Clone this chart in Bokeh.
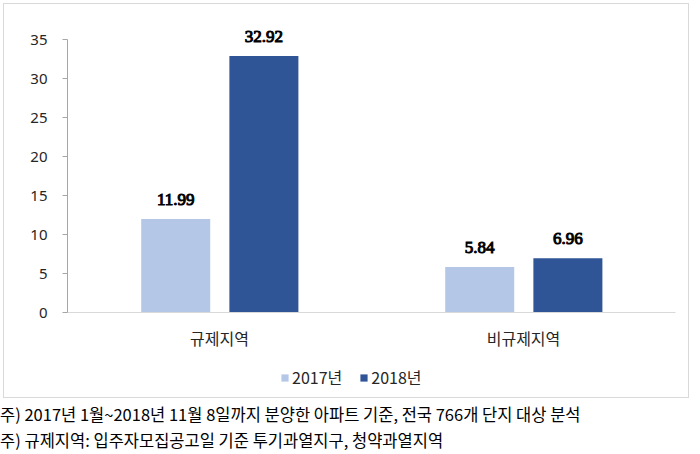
from bokeh.plotting import figure
from bokeh.models import ColumnDataSource, FactorRange, LabelSet, Legend, LegendItem, FixedTicker, Div
from bokeh.layouts import column
from bokeh.transform import dodge
from bokeh.embed import file_html
from bokeh.resources import INLINE

categories = ["규제지역", "비규제지역"]
series_names = ["2017년", "2018년"]
values_2017 = [11.99, 5.84]
values_2018 = [32.92, 6.96]
notes = [
    "주) 2017년 1월~2018년 11월 8일까지 분양한 아파트 기준, 전국 766개 단지 대상 분석",
    "주) 규제지역: 입주자모집공고일 기준 투기과열지구, 청약과열지역",
]

FONT = "Noto Sans CJK KR"
NUMFONT = "Noto Sans"
C17 = "#B4C7E7"
C18 = "#2F5597"

src = ColumnDataSource(dict(
    cat=categories,
    v17=values_2017,
    v18=values_2018,
    l17=[f"{v:.2f}" for v in values_2017],
    l18=[f"{v:.2f}" for v in values_2018],
))

# main chart
p = figure(width=684, height=352, x_range=FactorRange(*categories, range_padding=0),
           y_range=(0, 38), output_backend="svg", toolbar_location=None,
           min_border_left=63, min_border_right=13, min_border_top=12, min_border_bottom=44)
p.outline_line_color = None
p.background_fill_color = "white"
p.border_fill_color = "white"
p.xgrid.grid_line_color = None
p.ygrid.grid_line_color = None

r17 = p.vbar(x=dodge("cat", -0.144, range=p.x_range), top="v17", width=0.227, source=src,
             fill_color=C17, line_color=None)
r18 = p.vbar(x=dodge("cat", 0.146, range=p.x_range), top="v18", width=0.227, source=src,
             fill_color=C18, line_color=None)

for col, lab, off in (("v17", "l17", -0.144), ("v18", "l18", 0.146)):
    ls = LabelSet(x=dodge("cat", off, range=p.x_range), y=col, text=lab, source=src,
                  text_align="center", text_baseline="bottom", y_offset=14,
                  text_font=NUMFONT, text_font_size="17px", text_font_style="normal",
                  text_color="black", text_outline_color="black")
    p.add_layout(ls)

p.yaxis.ticker = FixedTicker(ticks=[0, 5, 10, 15, 20, 25, 30, 35])
p.yaxis.bounds = (0, 35)
p.yaxis.axis_line_color = "#A6A6A6"
p.yaxis.major_tick_line_color = "#A6A6A6"
p.yaxis.major_tick_out = 5
p.yaxis.major_tick_in = 0
p.yaxis.minor_tick_line_color = None
p.yaxis.major_label_standoff = 15
p.yaxis.major_label_text_font = NUMFONT
p.yaxis.major_label_text_font_size = "15px"
p.yaxis.major_label_text_color = "#262626"

p.xaxis.axis_line_color = "#D9D9D9"
p.xaxis.major_tick_line_color = None
p.xaxis.minor_tick_line_color = None
p.xaxis.major_label_standoff = 7
p.xaxis.major_label_text_font = FONT
p.xaxis.major_label_text_font_size = "16px"
p.xaxis.major_label_text_color = "#262626"

# legend strip
lsrc = ColumnDataSource(dict(x=[0.0], top=[0.0]))
lf = figure(width=684, height=41, x_range=(0, 1), y_range=(0, 1),
            output_backend="svg", toolbar_location=None,
            x_axis_location=None, y_axis_location=None, min_border=0)
lf.outline_line_color = None
lf.xgrid.grid_line_color = None
lf.ygrid.grid_line_color = None
lg17 = lf.vbar(x="x", top="top", width=0.0, source=lsrc, fill_color=C17, line_color=None)
lg18 = lf.vbar(x="x", top="top", width=0.0, source=lsrc, fill_color=C18, line_color=None)
legend = Legend(items=[LegendItem(label=series_names[0], renderers=[lg17]),
                       LegendItem(label=series_names[1], renderers=[lg18])],
                orientation="horizontal", location=(213, 8),
                label_text_font=FONT, label_text_font_size="16px", label_text_color="#262626",
                glyph_height=9, glyph_width=9, spacing=17, label_standoff=3,
                padding=4, margin=0, background_fill_alpha=0, border_line_color=None)
lf.add_layout(legend, "center")

chart = column(p, lf, spacing=0,
               styles={"border": "1px solid #D9D9D9"}, margin=(3, 0, 0, 3))

notes_html = "".join(
    f'<div style="height:26px;line-height:26px;white-space:nowrap">{t}</div>' for t in notes)
div = Div(text=notes_html, width=700, height=52,
          styles={"font-family": FONT, "font-size": "16.5px", "color": "black"},
          margin=(3, 0, 0, 0))

layout = column(chart, div, spacing=0)

open("out.html", "w").write(file_html(layout, INLINE))
